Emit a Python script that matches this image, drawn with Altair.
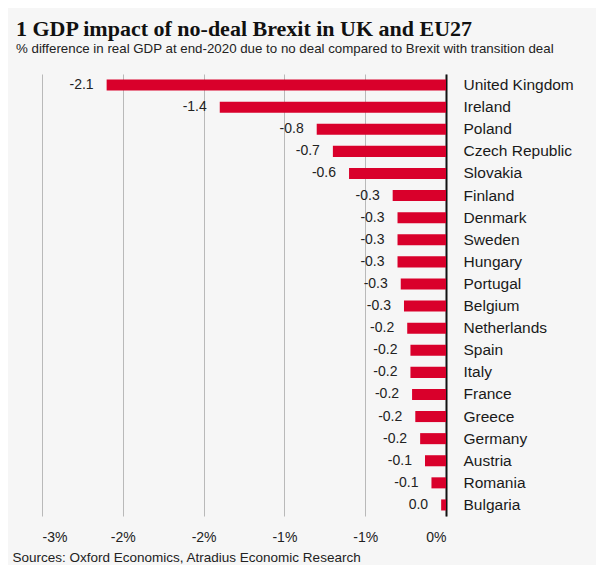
import altair as alt
import pandas as pd

countries = ["United Kingdom", "Ireland", "Poland", "Czech Republic", "Slovakia",
             "Finland", "Denmark", "Sweden", "Hungary", "Portugal", "Belgium",
             "Netherlands", "Spain", "Italy", "France", "Greece", "Germany",
             "Austria", "Romania", "Bulgaria"]
values = [-2.10, -1.40, -0.80, -0.70, -0.60,
          -0.33, -0.30, -0.30, -0.30, -0.28, -0.26,
          -0.24, -0.22, -0.22, -0.21, -0.19, -0.16,
          -0.13, -0.09, -0.03]
value_labels = ["-2.1", "-1.4", "-0.8", "-0.7", "-0.6",
                "-0.3", "-0.3", "-0.3", "-0.3", "-0.3", "-0.3",
                "-0.2", "-0.2", "-0.2", "-0.2", "-0.2", "-0.2",
                "-0.1", "-0.1", "0.0"]
tick_values = [-2.5, -2.0, -1.5, -1.0, -0.5, 0.0]
tick_labels = ["-3%", "-2%", "-2%", "-1%", "-1%", "0%"]

title_text = "1 GDP impact of no-deal Brexit in UK and EU27"
subtitle_text = "% difference in real GDP at end-2020 due to no deal compared to Brexit with transition deal"
source_text = "Sources: Oxford Economics, Atradius Economic Research"

df = pd.DataFrame({"country": countries, "value": values, "label": value_labels})

label_expr = " : ".join(
    f"datum.value == {v} ? '{l}'" for v, l in zip(tick_values, tick_labels)
) + " : ''"

W, H = 404, 442
SANS = "Liberation Sans"
RED = "#d9002b"

x_enc = alt.X(
    "value:Q",
    scale=alt.Scale(domain=[-2.5, 0], nice=False),
    axis=alt.Axis(
        orient="bottom", values=tick_values, labelExpr=label_expr,
        grid=True, gridColor="#b9b9b9", gridWidth=1,
        domain=False, ticks=False,
        labelFont=SANS, labelFontSize=14, labelColor="#222", labelPadding=14,
        title=source_text, titleFont=SANS, titleFontSize=13.5,
        titleFontWeight="normal", titleColor="#222",
        titleX=-30, titleY=45, titleAlign="left", titleBaseline="alphabetic",
        titleAnchor="start",
    ),
)
y_enc = alt.Y(
    "country:N", sort=countries,
    scale=alt.Scale(paddingInner=0.5, paddingOuter=0.25),
    axis=alt.Axis(
        orient="right", title=None, domain=True, domainColor="#111",
        domainWidth=2, ticks=False, grid=False,
        labelFont=SANS, labelFontSize=15.5, labelColor="#1a1a1a",
        labelPadding=17, labelLimit=200,
    ),
)

bars = alt.Chart(df).mark_bar(color=RED).encode(x=x_enc, y=y_enc)
texts = alt.Chart(df).mark_text(
    align="right", baseline="middle", dx=-13,
    font=SANS, fontSize=14, color="#222",
).encode(
    x=alt.X("value:Q"),
    y=alt.Y("country:N", sort=countries),
    text="label:N",
)

chart = alt.layer(bars, texts).properties(
    width=W, height=H,
    background="#f6f6f6",
    padding={"left": 34, "top": 66, "right": 150, "bottom": 49},
    autosize=alt.AutoSizeParams(type="none"),
    title=alt.TitleParams(
        text=title_text, subtitle=subtitle_text,
        anchor="start", frame="group", dx=-26,
        font="Liberation Serif", fontSize=22, fontWeight="bold", color="#111",
        subtitleFont=SANS, subtitleFontSize=13.3, subtitleColor="#222",
        subtitlePadding=1, offset=18,
    ),
).configure_view(stroke=None)

chart.save("out.html", embed_options={"renderer": "svg", "actions": False})
